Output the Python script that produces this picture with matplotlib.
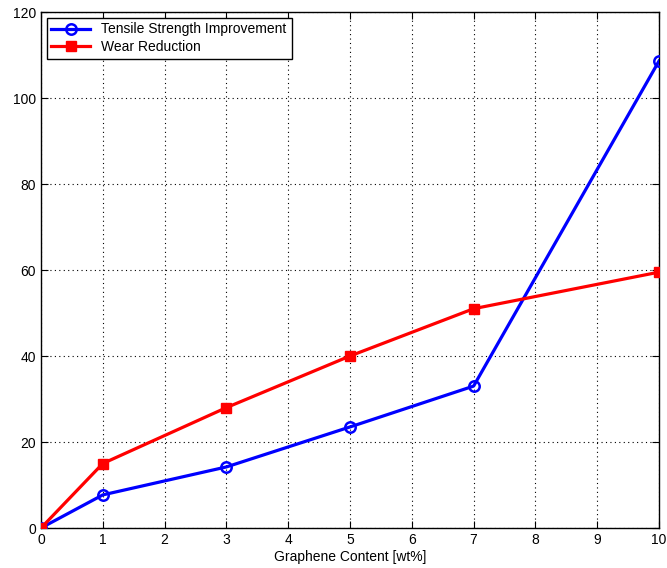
import matplotlib
matplotlib.use("Agg")
import matplotlib.pyplot as plt

plt.rcParams['font.family'] = ['Liberation Sans', 'DejaVu Sans']

x_tensile = [0, 1, 3, 5, 7, 10]
tensile = [0, 7.7, 14.2, 23.5, 33.0, 108.6]
x_wear = [0, 1, 3, 5, 7, 10]
wear = [0, 15.0, 28.0, 40.0, 51.0, 59.5]
xticks = list(range(0, 11))
yticks = [0, 20, 40, 60, 80, 100, 120]

fig = plt.figure(figsize=(6.67, 5.68), dpi=100)
ax = fig.add_axes([41/667, 40/568, 618/667, 516/568])

ax.plot(x_tensile, tensile, color='#0000ff', lw=2.3, marker='o', ms=7.5,
        mfc='none', mec='#0000ff', mew=1.8, label='Tensile Strength Improvement', zorder=3)
ax.plot(x_wear, wear, color='#ff0000', lw=2.3, marker='s', ms=7.5,
        mfc='#ff0000', mec='#ff0000', label='Wear Reduction', zorder=3)

ax.set_xlim(0, 10)
ax.set_ylim(0, 120)
ax.set_xticks(xticks)
ax.set_yticks(yticks)
ax.grid(True, linestyle=(0, (1, 3)), color='black', linewidth=0.8)
ax.tick_params(direction='in', top=True, right=True, labelsize=10, length=5)
for s in ax.spines.values():
    s.set_linewidth(1.0)
ax.set_xlabel('Graphene Content [wt%]', fontsize=10, labelpad=2)

leg = ax.legend(loc='upper left', fontsize=10, fancybox=False, framealpha=1,
                edgecolor='black', borderaxespad=0.4, handlelength=2.8,
                borderpad=0.35, labelspacing=0.25)
leg.get_frame().set_linewidth(1.0)

fig.savefig('out.png', dpi=100)
